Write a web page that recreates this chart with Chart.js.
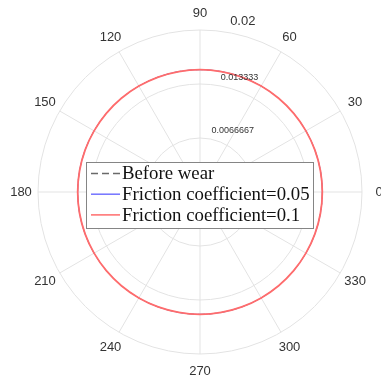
<!DOCTYPE html>
<html>
<head>
<meta charset="utf-8">
<script src="https://cdn.jsdelivr.net/npm/chart.js@4/dist/chart.umd.min.js"></script>
<style>
  html, body { margin: 0; padding: 0; background: #fff; }
  #wrap { width: 381px; height: 383px; }
</style>
</head>
<body>
<div id="wrap"><canvas id="polar" width="381" height="383"></canvas></div>
<script>
// sudut (derajat), urutan dibalik supaya berlawanan arah jarum jam
const thetaLabels = [0, 350, 340, 330, 320, 310, 300, 290, 280, 270, 260, 250,
  240, 230, 220, 210, 200, 190, 180, 170, 160, 150, 140, 130,
  120, 110, 100, 90, 80, 70, 60, 50, 40, 30, 20, 10];

// label sumbu r
const rTicks = [0.0066667, 0.013333, 0.02];
const rTickLabels = ['0.0066667', '0.013333', '0.02'];

const seriesNames = ['Before wear', 'Friction coefficient=0.05', 'Friction coefficient=0.1'];

// ketiga kurva saling menutup di gambar (hanya merah yang terlihat)
const beforeWear = [0.0151, 0.0151, 0.0151, 0.0151, 0.0151, 0.0151, 0.0151, 0.0151, 0.0151,
  0.0151, 0.0151, 0.0151, 0.0151, 0.0151, 0.0151, 0.0151, 0.0151, 0.0151,
  0.0151, 0.0151, 0.0151, 0.0151, 0.0151, 0.0151, 0.0151, 0.0151, 0.0151,
  0.0151, 0.0151, 0.0151, 0.0151, 0.0151, 0.0151, 0.0151, 0.0151, 0.0151];
const friction005 = [0.0151, 0.0151, 0.0151, 0.0151, 0.0151, 0.0151, 0.0151, 0.0151, 0.0151,
  0.0151, 0.0151, 0.0151, 0.0151, 0.0151, 0.0151, 0.0151, 0.0151, 0.0151,
  0.0151, 0.0151, 0.0151, 0.0151, 0.0151, 0.0151, 0.0151, 0.0151, 0.0151,
  0.0151, 0.0151, 0.0151, 0.0151, 0.0151, 0.0151, 0.0151, 0.0151, 0.0151];
const friction01 = [0.0151, 0.0151, 0.0151, 0.0151, 0.0151, 0.0151, 0.0151, 0.0151, 0.0151,
  0.0151, 0.0151, 0.0151, 0.0151, 0.0151, 0.0151, 0.0151, 0.0151, 0.0151,
  0.0151, 0.0151, 0.0151, 0.0151, 0.0151, 0.0151, 0.0151, 0.0151, 0.0151,
  0.0151, 0.0151, 0.0151, 0.0151, 0.0151, 0.0151, 0.0151, 0.0151, 0.0151];

const lineColors = ['#6a6a6a', '#7373ff', '#ff6c6c'];
const lineDashes = [[7, 4], [], []];
const lineWidths = [0.8, 0.8, 1.8];

// teks sumbu + legenda digambar sendiri
const polarText = {
  id: 'polarText',
  afterDraw(chart) {
    const scale = chart.scales.r;
    const ctx = chart.ctx;
    ctx.save();

    // label sudut
    ctx.font = '13px "Liberation Sans", Arial, sans-serif';
    ctx.fillStyle = '#333333';
    ctx.textAlign = 'center';
    ctx.textBaseline = 'middle';
    thetaLabels.forEach((lab, i) => {
      if (lab % 30 !== 0) return;
      const p = scale.getPointPosition(i, scale.drawingArea + 17);
      ctx.fillText(String(lab), p.x, p.y);
    });

    // label r di arah 80 derajat
    const idx80 = thetaLabels.indexOf(80);
    ctx.textAlign = 'left';
    ctx.textBaseline = 'bottom';
    rTicks.forEach((v, i) => {
      const p = scale.getPointPositionForValue(idx80, v);
      const big = i === rTicks.length - 1;
      ctx.font = (big ? '13px' : '9px') + ' "Liberation Sans", Arial, sans-serif';
      ctx.fillText(rTickLabels[i], p.x + 2, p.y - (big ? 5 : 4));
    });

    // legenda
    const box = { x: 86.5, y: 162.5, w: 227, h: 66 };
    ctx.fillStyle = '#ffffff';
    ctx.fillRect(box.x, box.y, box.w, box.h);
    ctx.strokeStyle = '#858585';
    ctx.lineWidth = 1;
    ctx.strokeRect(box.x, box.y, box.w, box.h);

    ctx.font = '18.8px "Liberation Serif", "Times New Roman", serif';
    ctx.textBaseline = 'middle';
    ctx.textAlign = 'left';
    chart.data.datasets.forEach((ds, i) => {
      const y = 173.5 + i * 20.7;
      ctx.strokeStyle = ds.borderColor;
      ctx.lineWidth = 1.5;
      ctx.setLineDash(ds.borderDash || []);
      ctx.beginPath();
      ctx.moveTo(91, y);
      ctx.lineTo(120, y);
      ctx.stroke();
      ctx.setLineDash([]);
      ctx.fillStyle = '#111111';
      ctx.fillText(ds.label, 122, y + 1);
    });
    ctx.restore();
  }
};

const seriesData = [beforeWear, friction005, friction01];

new Chart(document.getElementById('polar'), {
  type: 'radar',
  data: {
    labels: thetaLabels,
    datasets: seriesNames.map((name, i) => ({
      label: name,
      data: seriesData[i],
      borderColor: lineColors[i],
      borderDash: lineDashes[i],
      borderWidth: lineWidths[i],
      fill: false,
      pointRadius: 0,
      tension: 0.33,
      order: 3 - i
    }))
  },
  options: {
    responsive: false,
    animation: false,
    layout: { padding: { left: 38, right: 19, top: 30, bottom: 29 } },
    plugins: { legend: { display: false }, tooltip: { enabled: false } },
    scales: {
      r: {
        min: 0,
        max: 0.02,
        startAngle: 90,
        afterBuildTicks: s => { s.ticks = [0].concat(rTicks).map(v => ({ value: v })); },
        ticks: { display: false },
        grid: { circular: true, color: '#e3e3e3', lineWidth: 1 },
        angleLines: {
          color: '#e3e3e3',
          lineWidth: c => (c.index % 3 === 0 ? 1 : 0)
        },
        pointLabels: { display: false }
      }
    }
  },
  plugins: [polarText]
});
</script>
</body>
</html>
